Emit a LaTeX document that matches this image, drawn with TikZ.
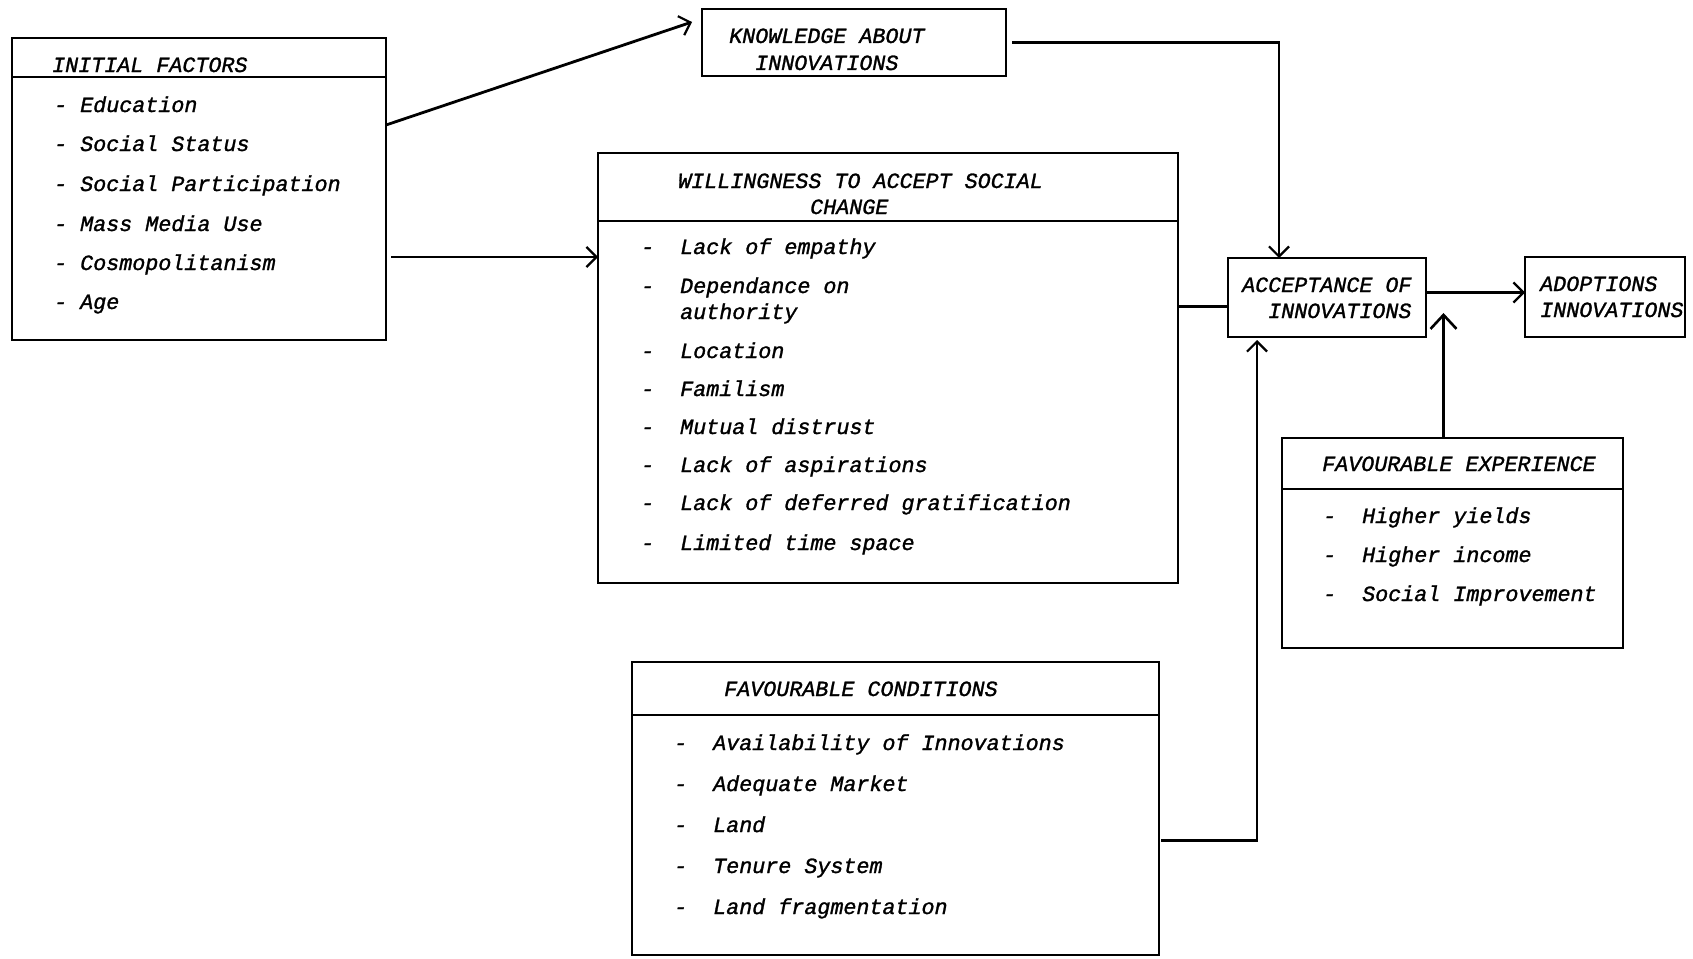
\documentclass[tikz,border=0pt]{standalone}
\usepackage{fontspec}
\newfontfamily\reffont{Liberation Mono}[ItalicFeatures={FakeBold=1.3}]
\usetikzlibrary{arrows.meta,calc}
\begin{document}
\begin{tikzpicture}[x=1pt,y=-1pt,
  box/.style={draw, line width=2.8pt, inner sep=0pt, outer sep=0pt},
  sep/.style={line width=2.8pt},
  txt/.style={anchor=base west, inner sep=0pt, font=\fontsize{21.7}{26}\selectfont\reffont\itshape},
  conn/.style={line width=2.8pt},
  arr/.style={line width=2.8pt, -{Straight Barb[length=10pt,width=20pt,line width=2.2pt]}},
  bigarr/.style={line width=2.8pt, -{Straight Barb[length=14pt,width=26pt,line width=2.6pt]}}]
\fill[white] (0,0) rectangle (1693,958);
\useasboundingbox (0,0) rectangle (1693,958);

% boxes
\node[box, minimum width=374pt, minimum height=302pt] (init) at (199,189) {};
\node[box, minimum width=304pt, minimum height=67pt] (know) at (854,42.5) {};
\node[box, minimum width=580pt, minimum height=430pt] (will) at (888,368) {};
\node[box, minimum width=198pt, minimum height=79pt] (acc) at (1327,297.5) {};
\node[box, minimum width=160pt, minimum height=80pt] (adopt) at (1605,297) {};
\node[box, minimum width=341pt, minimum height=210pt] (exp) at (1452.5,543) {};
\node[box, minimum width=527pt, minimum height=293pt] (cond) at (895.5,808.5) {};

% header separators
\draw[sep] ([yshift=-39pt]init.north west) -- ([yshift=-39pt]init.north east);
\draw[sep] ([yshift=-68pt]will.north west) -- ([yshift=-68pt]will.north east);
\draw[sep] ([yshift=-51pt]exp.north west) -- ([yshift=-51pt]exp.north east);
\draw[sep] ([yshift=-53pt]cond.north west) -- ([yshift=-53pt]cond.north east);

% initial factors text
\node[txt] (i0) at (52,72) {INITIAL FACTORS};
\node[txt] (i1) at (54,112) {- Education};
\node[txt] (i2) at (54,151) {- Social Status};
\node[txt] (i3) at (54,191) {- Social Participation};
\node[txt] (i4) at (54,231) {- Mass Media Use};
\node[txt] (i5) at (54,270) {- Cosmopolitanism};
\node[txt] (i6) at (54,309) {- Age};

% knowledge
\node[txt] (k1) at (729,43) {KNOWLEDGE ABOUT};
\node[txt] (k2) at (755,70) {INNOVATIONS};

% willingness
\node[txt] (w0) at (678,188) {WILLINGNESS TO ACCEPT SOCIAL};
\node[txt] (w0b) at (810,214) {CHANGE};
\node[txt] (wd1) at (641,254) {-};
\node[txt] (w1) at (680,254) {Lack of empathy};
\node[txt] (wd2) at (641,293) {-};
\node[txt] (w2) at (680,293) {Dependance on};
\node[txt] (w2b) at (680,319) {authority};
\node[txt] (wd3) at (641,358) {-};
\node[txt] (w3) at (680,358) {Location};
\node[txt] (wd4) at (641,396) {-};
\node[txt] (w4) at (680,396) {Familism};
\node[txt] (wd5) at (641,434) {-};
\node[txt] (w5) at (680,434) {Mutual distrust};
\node[txt] (wd6) at (641,472) {-};
\node[txt] (w6) at (680,472) {Lack of aspirations};
\node[txt] (wd7) at (641,510) {-};
\node[txt] (w7) at (680,510) {Lack of deferred gratification};
\node[txt] (wd8) at (641,550) {-};
\node[txt] (w8) at (680,550) {Limited time space};

% acceptance
\node[txt] (a1) at (1242,292) {ACCEPTANCE OF};
\node[txt] (a2) at (1268,318) {INNOVATIONS};

% adoptions
\node[txt] (d1) at (1540,291) {ADOPTIONS};
\node[txt] (d2) at (1540,317) {INNOVATIONS};

% favourable experience
\node[txt] (e0) at (1322,471) {FAVOURABLE EXPERIENCE};
\node[txt] (ed1) at (1323,523) {-};
\node[txt] (e1) at (1362,523) {Higher yields};
\node[txt] (ed2) at (1323,562) {-};
\node[txt] (e2) at (1362,562) {Higher income};
\node[txt] (ed3) at (1323,601) {-};
\node[txt] (e3) at (1362,601) {Social Improvement};

% favourable conditions
\node[txt] (c0) at (724,696) {FAVOURABLE CONDITIONS};
\node[txt] (cd1) at (674,750) {-};
\node[txt] (c1) at (713,750) {Availability of Innovations};
\node[txt] (cd2) at (674,791) {-};
\node[txt] (c2) at (713,791) {Adequate Market};
\node[txt] (cd3) at (674,832) {-};
\node[txt] (c3) at (713,832) {Land};
\node[txt] (cd4) at (674,873) {-};
\node[txt] (c4) at (713,873) {Tenure System};
\node[txt] (cd5) at (674,914) {-};
\node[txt] (c5) at (713,914) {Land fragmentation};

% connectors
\draw[arr] ([yshift=-87pt]init.north east) -- ([xshift=-10pt,yshift=-13pt]know.north west);
\coordinate (s2) at ([xshift=5pt,yshift=-219pt]init.north east);
\draw[arr] (s2) -- (will.west |- s2);
\draw[arr] ([xshift=6pt]know.east) -| ([xshift=-48pt]acc.north);
\coordinate (aw) at ([yshift=-9pt]acc.west);
\draw[conn] (will.east |- aw) -- (aw);
\coordinate (ae) at ([yshift=5pt]acc.east);
\draw[arr] (ae) -- (adopt.west |- ae);
\draw[bigarr] ([xshift=-9pt]exp.north) -- ++(0,-125);
\draw[arr] ([xshift=2pt,yshift=-32pt]cond.east) -| ([xshift=-70pt,yshift=-3pt]acc.south);
\end{tikzpicture}
\end{document}
